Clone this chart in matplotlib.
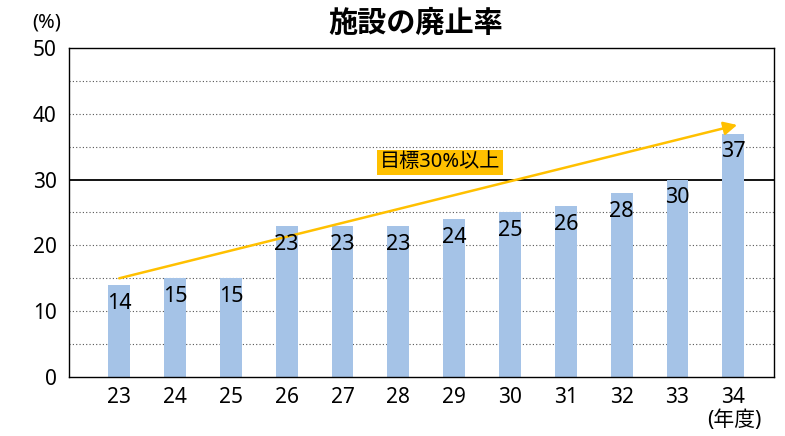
import matplotlib.pyplot as plt

plt.rcParams['font.family'] = ['Noto Sans', 'Noto Sans CJK JP', 'DejaVu Sans']

# Data
years = ['23', '24', '25', '26', '27', '28', '29', '30', '31', '32', '33', '34']
rates = [14, 15, 15, 23, 23, 23, 24, 25, 26, 28, 30, 37]
target = 30
arrow_start = 15
arrow_end = 38.3

fig = plt.figure(figsize=(7.85, 4.36), dpi=100)
ax = fig.add_axes([0.0879, 0.1353, 0.8981, 0.7547])

x = range(len(years))
ax.bar(x, rates, width=0.39, color='#a5c3e7', zorder=2)

for i, v in enumerate(rates):
    ax.text(i, v - 1.2, str(v), ha='center', va='top', fontsize=15.5, zorder=4)

# grid lines
for y in [5, 10, 15, 20, 25, 35, 40, 45]:
    ax.axhline(y, color='#555555', linestyle=(0, (1, 2)), linewidth=0.8, zorder=1)
ax.axhline(target, color='black', linewidth=1.3, zorder=1)

# target arrow
ax.annotate('', xy=(11.07, arrow_end), xytext=(0, arrow_start),
            arrowprops=dict(arrowstyle='-|>', color='#ffc000', lw=1.8,
                            mutation_scale=20, shrinkA=0, shrinkB=0), zorder=3)
ax.text(5.75, 32.6, '目標30%以上', ha='center', va='center', fontsize=14.5,
        bbox=dict(facecolor='#ffc000', edgecolor='none', pad=2), zorder=4)

ax.set_xlim(-0.9, 11.73)
ax.set_ylim(0, 50)
ax.set_yticks([0, 10, 20, 30, 40, 50])
ax.set_xticks(list(x))
ax.set_xticklabels(years)
ax.tick_params(axis='both', length=0, labelsize=15)
ax.tick_params(axis='y', pad=9)
ax.tick_params(axis='x', pad=7)
for s in ax.spines.values():
    s.set_linewidth(1.0)

fig.text(0.529, 0.945, '施設の廃止率', ha='center', va='center', fontsize=21, fontweight='bold')
fig.text(0.059, 0.948, '(%)', ha='center', va='center', fontsize=14.5)
fig.text(0.936, 0.035, '(年度)', ha='center', va='center', fontsize=15)

fig.savefig('out.png', dpi=100)
